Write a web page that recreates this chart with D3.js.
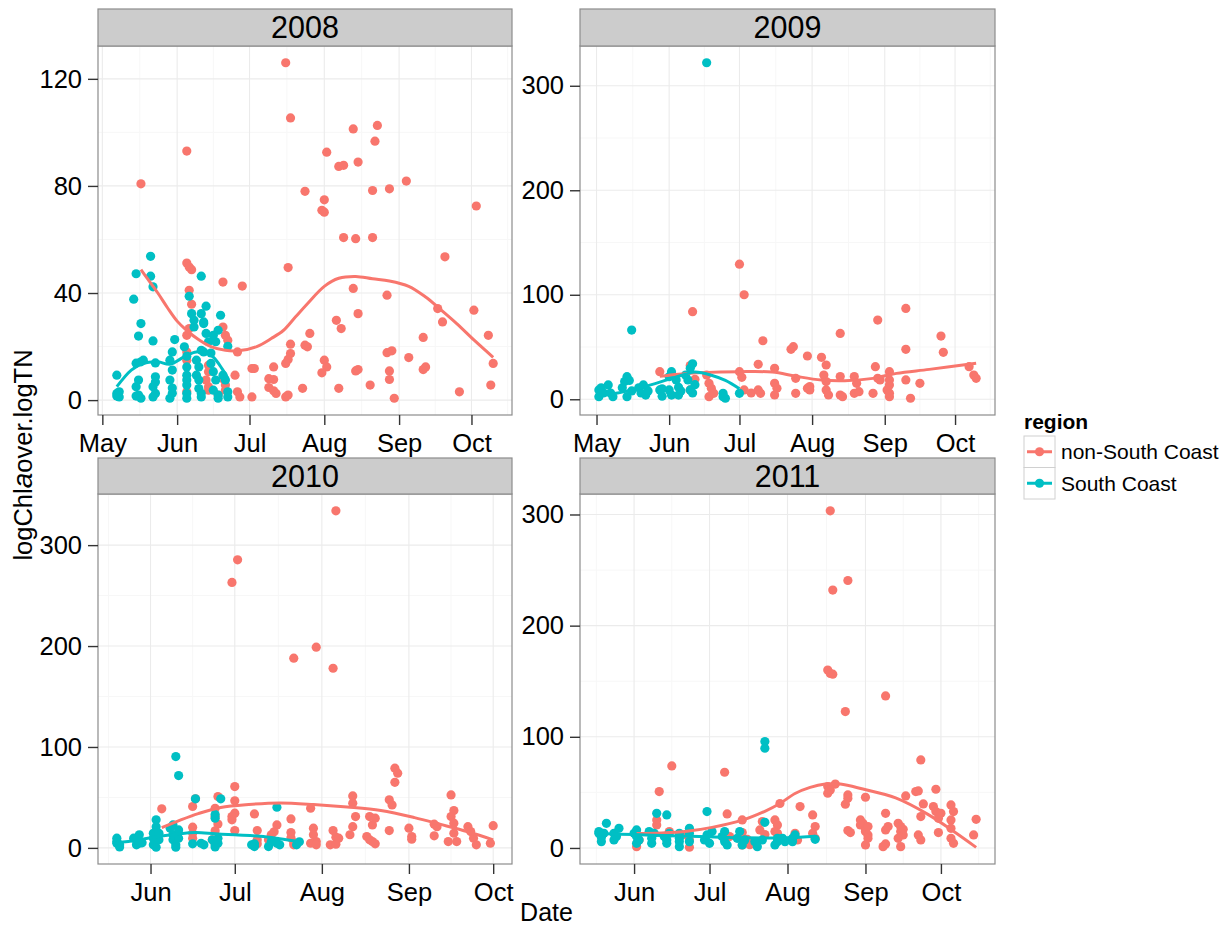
<!DOCTYPE html>
<html><head><meta charset="utf-8">
<script src="https://cdn.jsdelivr.net/npm/d3@7"></script>
<style>
body{margin:0;background:#fff;}
text{font-family:"Liberation Sans",Arial,Helvetica,sans-serif;}
</style>
</head><body>
<svg id="chart" width="1231" height="929"></svg>
<script>
// ---------------- DATA ----------------
const years = [2008, 2009, 2010, 2011];
const regions = ["non-South Coast", "South Coast"];
const yTicks2008 = [0, 40, 80, 120];
const yTicksOther = [0, 100, 200, 300];

// 2008
const nsc2008Dates = ["05-17","06-05","06-05","06-06","06-07","06-06","06-07","06-06","06-05","06-05","06-05","06-05","06-14","06-14","06-13","06-14","06-14","06-20","06-20","06-21","06-22","06-20","06-21","06-18","06-21","06-28","06-26","06-25","06-26","06-27","07-02","07-03","07-02","07-11","07-09","07-11","07-09","07-11","07-12","07-16","07-18","07-17","07-18","07-18","07-17","07-16","07-16","07-17","07-23","07-24","07-26","07-25","07-24","08-02","08-01","07-31","08-01","08-01","08-02","07-31","08-06","08-08","08-07","08-07","08-09","08-09","08-13","08-15","08-14","08-13","08-15","08-14","08-15","08-20","08-21","08-21","08-22","08-23","08-27","08-28","08-27","08-29","08-28","08-28","08-30","09-04","09-05","09-11","09-11","09-12","09-17","09-19","09-20","09-26","10-02","10-03","10-08","10-09","10-10"];
const nsc2008Values = [80.8,93,51.2,49.7,48.7,41,35.8,26.7,24.2,18,14.9,3.1,13,10.6,7.5,5,3.7,44.1,27.3,24.2,22.4,8,5.6,1.9,3.7,42.6,18,9.3,3.1,1.2,11.8,11.8,1.2,12.4,8,7.7,4.7,3.5,2.5,126,105.4,49.5,20.9,17.4,15.2,13.7,1.2,1.9,4.4,78,24.9,19.9,20.5,92.6,74.8,70.9,70.2,14.9,12.4,10.2,29.8,26.7,4.4,87.3,87.7,60.7,101.3,88.9,60.3,41.7,32.3,10.9,11.4,5.6,78.3,60.7,96.7,102.6,39.2,78.9,17.7,18.4,10.9,7.7,0.7,81.8,15.9,23.4,11.4,12.4,34.2,29.2,53.5,3.1,33.6,72.5,24.2,5.6,13.7];
const sc2008Dates = ["05-07","05-07","05-08","05-08","05-07","05-14","05-15","05-17","05-16","05-15","05-17","05-16","05-15","05-15","05-16","05-17","05-18","05-21","05-21","05-22","05-22","05-23","05-23","05-23","05-22","05-23","05-22","05-31","05-30","05-29","05-30","05-29","05-30","05-30","05-29","06-04","06-05","06-05","06-05","06-05","06-05","06-05","06-05","06-06","06-07","06-08","06-08","06-11","06-11","06-13","06-12","06-12","06-13","06-14","06-11","06-12","06-15","06-09","06-10","06-09","06-10","06-10","06-11","06-11","06-19","06-18","06-16","06-17","06-22","06-15","06-16","06-17","06-16","06-18","06-18","06-20","06-21","06-22","06-22"];
const sc2008Values = [9.3,2.5,1.2,3.1,1.5,37.7,47.2,28.6,23.9,13.8,14.3,7.5,5,1.5,1.9,0.7,14.9,53.7,46.3,42.3,22.1,13.9,8.7,6.8,5,2.5,1.2,22.6,18,14.9,11.2,7.5,4.5,2.6,0.7,19.9,16.4,12.4,9.3,7.5,5.6,2.5,0.7,38.8,32.3,27.3,29.8,46.3,32.3,35.1,28.6,29.2,24.9,21.8,18.6,18,17.6,14.9,12.4,9.3,7.5,4.3,2.5,1.2,31.7,26.1,24.2,21.8,20.1,13.7,10.6,7.5,3.7,1.9,0.7,9.3,7.5,1.2,3.1];
const nscFit2008Dates = ["05-17","05-20","05-24","05-28","06-01","06-05","06-10","06-15","06-21","06-27","07-04","07-10","07-15","07-20","07-25","08-01","08-07","08-14","08-21","08-28","09-05","09-12","09-18","09-25","10-02","10-10"];
const nscFit2008Values = [48.7,45,40,34.5,29.5,26,22.5,20,18.6,18.5,20,23,26,31,36,42.5,45.5,46.2,45.3,44.5,42.5,38.5,34,28.5,22.5,16];
const scFit2008Dates = ["05-07","05-13","05-18","05-24","05-29","06-04","06-09","06-15","06-20","06-22"];
const scFit2008Values = [5,11.2,13.7,14.3,13.4,16.2,18,16.8,11.2,8.2];

// 2009
const nsc2009Dates = ["05-28","06-10","06-11","06-10","06-12","06-17","06-18","06-19","06-18","06-20","07-01","07-03","07-01","07-02","07-03","07-06","07-09","07-10","07-11","07-09","07-16","07-16","07-17","07-16","07-23","07-24","07-25","07-25","07-30","07-30","07-31","07-31","08-05","08-07","08-06","08-07","08-07","08-08","08-13","08-13","08-13","08-14","08-19","08-20","08-19","08-21","08-27","08-28","08-29","08-29","08-30","09-02","09-03","09-03","09-03","09-03","09-03","09-10","09-10","09-10","09-12","09-16","09-25","09-26","10-07","10-09","10-10"];
const nsc2009Values = [26.4,32.2,83.8,8.9,19.1,23.2,15.3,10.5,2.5,5.7,129.3,100,26.4,21,8.9,6,8.9,5.7,56,33.4,29.6,15.3,10.5,4.1,47.8,50.3,20,5.7,41.4,10.5,12.1,8.9,40.1,32.8,23.2,16.9,8.9,4.1,63,21.7,4.1,2.5,21.7,15.3,5.7,7.3,5.7,31.2,75.8,20,18.5,8.9,2.5,5.7,26.4,18.5,13.7,86.9,47.8,18.5,1,15.3,60.5,44.9,31.2,23.2,20];
const sc2009Dates = ["05-02","05-02","05-03","05-04","05-06","05-07","05-08","05-12","05-13","05-14","05-14","05-15","05-16","05-16","05-19","05-20","05-21","05-22","05-23","05-28","05-29","05-29","06-01","06-02","06-01","06-02","06-04","06-05","06-05","06-06","06-08","06-09","06-10","06-10","06-11","06-11","06-12","06-17","06-24","06-25","06-24","07-01"];
const sc2009Values = [8.9,2.5,11,6,13.7,6,2.5,11,16.9,21.6,2.5,18,8,66.2,11,6,13.7,4,8,8.9,3,10,21.6,26.4,8.9,4,18.5,11.5,4,8,23.2,18.5,29.6,8.9,6,34,14,322,5.7,1,2.5,5.7];
const nscFit2009Dates = ["05-28","06-05","06-15","07-01","07-15","07-25","08-05","08-15","08-27","09-06","09-20","10-10"];
const nscFit2009Values = [22,24,25.5,26.4,26,22,18.4,17.8,20,24.8,28.6,34.5];
const scFit2009Dates = ["05-02","05-10","05-18","05-26","06-02","06-08","06-12","06-19","06-25","07-01"];
const scFit2009Values = [4,6,10,15,20,24,26,23,18,10];

// 2010
const nsc2010Dates = ["06-05","06-16","06-17","06-16","06-16","06-16","06-25","06-24","06-24","06-25","06-24","06-23","06-24","06-30","07-02","07-01","07-01","07-01","06-30","06-30","07-01","07-08","07-09","07-09","07-09","07-16","07-15","07-14","07-13","07-21","07-22","07-21","07-22","07-21","07-22","07-28","07-30","07-29","07-29","07-30","07-28","07-30","08-05","08-06","08-05","08-06","08-04","08-06","08-07","08-12","08-12","08-13","08-12","08-11","08-18","08-19","08-20","08-17","08-18","08-19","08-20","08-25","08-26","08-25","08-27","08-28","08-27","09-01","09-02","09-02","09-10","09-11","09-10","09-16","09-17","09-16","09-17","09-15","09-17","09-18","09-22","09-23","09-24","09-25","09-30","10-01"];
const nsc2010Values = [38.7,41,48.6,20.5,14.5,9.6,50.9,39.3,31,23.6,17,8,4.6,263,285.4,60.8,46.6,34.4,31,27.8,17.2,33.7,17.2,8,4,22.8,16,12.9,8,28.7,188,10,5.3,15.2,3,39.3,198.9,19.5,13,6.3,4.6,3,178,334,17.2,10.6,3,3.6,9.6,51.5,44.3,31,21,13,31,22.8,29.4,11.2,8,6.3,4,47.6,42.6,17.2,79,74,65,19.5,11.2,8.6,23.5,21,12,52.5,37,31,24.5,6.3,14.5,6.3,21,16.2,9.6,3,4.6,22];
const sc2010Dates = ["05-20","05-20","05-21","05-20","05-21","05-26","05-27","05-28","05-28","05-27","05-29","06-02","06-03","06-03","06-02","06-02","06-03","06-04","06-04","06-08","06-09","06-09","06-10","06-10","06-11","06-11","06-09","06-10","06-11","06-16","06-17","06-19","06-20","06-24","06-24","06-24","06-25","06-23","06-25","06-24","06-26","07-07","07-08","07-08","07-13","07-14","07-16","07-16","07-17","07-23","07-24"];
const sc2010Values = [6.3,4.6,1,9.6,3,9.6,3,4.6,13,8,5,9.6,21,27.8,14.5,3,0.7,8,14.5,19.5,8,13,3,0.7,17.8,9.6,22.8,90.5,71.7,4,48.6,4.6,3,29.4,33,3,4.6,8,9.6,1,48.6,3,4,1.3,1.3,6.3,4.6,40.3,3,3,6];
const nscFit2010Dates = ["06-05","06-12","06-18","06-26","07-06","07-17","07-29","08-10","08-22","09-03","09-12","09-22","10-01"];
const nscFit2010Values = [20,28,34,40,43,44.5,43,40.5,37,30,23.5,16,8];
const scFit2010Dates = ["05-20","05-27","06-03","06-10","06-17","06-24","07-01","07-10","07-17","07-24"];
const scFit2010Values = [5,7.5,11,13.5,15.2,14,12.9,11.5,9,6];

// 2011
const nsc2011Dates = ["06-02","06-03","06-10","06-10","06-11","06-15","06-16","06-22","06-23","06-23","07-07","07-08","07-09","07-14","07-14","07-14","07-15","07-16","07-17","07-21","07-22","07-23","07-27","07-28","07-27","07-28","07-29","08-04","08-05","08-06","08-11","08-12","08-11","08-12","08-17","08-20","08-17","08-18","08-17","08-18","08-19","08-18","08-19","08-24","08-25","08-25","08-25","08-24","08-25","08-26","08-30","08-31","08-30","09-01","09-01","09-01","09-02","09-01","09-02","09-02","09-08","09-09","09-09","09-09","09-10","09-09","09-14","09-15","09-16","09-14","09-16","09-15","09-15","09-17","09-21","09-22","09-23","09-24","09-23","09-22","09-23","09-29","09-28","09-29","09-30","09-30","10-01","10-05","10-06","10-05","10-05","10-05","10-06","10-14","10-15"];
const nsc2011Values = [1.2,7.2,25.2,20.7,50.7,14.7,73.8,11.7,0.7,7.2,68.1,30.6,10.2,25.2,13.8,2.7,5.7,7.8,3,16.2,23.7,12,25.2,20.7,14.7,13.2,40,13.2,7.2,37.2,29.7,19.2,13.2,8.7,55.2,57.5,49.2,52.2,160,157,156.3,303.3,232,122.7,240.6,47.7,44.7,39.3,15.6,13.8,25.2,22.2,20.7,45.6,16.2,14.7,11.7,2.7,19.2,8.7,1.2,3.6,31.2,16.2,19.2,136.8,22.2,14.7,11.7,8.7,16.8,1.2,19.2,46.8,50.7,51.3,79.2,39.6,28.2,11.7,7.2,52.8,37.2,32.7,26.7,13.8,31.2,38.7,32.7,25.2,17.7,8.7,4.2,11.7,25.8];
const sc2011Dates = ["05-18","05-18","05-19","05-19","05-20","05-21","05-24","05-24","05-25","05-26","06-01","06-02","06-02","06-02","06-03","06-07","06-08","06-09","06-08","06-10","06-14","06-13","06-14","06-14","06-15","06-19","06-19","06-19","06-19","06-23","06-23","06-23","06-29","06-30","06-30","07-01","07-02","07-06","07-07","07-07","07-08","07-12","07-13","07-14","07-15","07-19","07-20","07-22","07-23","07-23","07-23","07-27","07-28","07-28","07-30","07-31","08-03","08-03","08-04","08-12"];
const sc2011Values = [13.2,14.7,5.7,9.7,13.2,22.2,13.2,7.2,10.2,17.7,13.2,16.2,10.2,4.2,7.2,14.7,8.7,13.2,4.2,31.2,29.7,10.2,4.2,7.2,13.2,13.2,8.7,5.7,1.2,17.7,13.2,5.7,7.2,11.7,32.7,4.2,14.7,10.2,5.7,14.7,2.7,8.7,14.7,2.7,7.2,5.7,1.2,7.2,23.1,95.7,89.7,2.7,8.7,5.7,8.7,5.7,8.7,5.7,11.7,7.8];
const nscFit2011Dates = ["06-02","06-12","06-22","07-02","07-14","07-23","07-29","08-04","08-10","08-16","08-22","08-31","09-13","09-26","10-06","10-15"];
const nscFit2011Values = [13,13.5,15,18.5,25,33,40,49,54.5,57.5,57.5,53,45,30,15,0.5];
const scFit2011Dates = ["05-18","06-01","06-15","07-01","07-15","08-01","08-12"];
const scFit2011Values = [13,12,11,10,9.2,9.2,10.5];

// ---------------- LAYOUT / STYLE ----------------
const RED = "#F8766D", CYAN = "#00BFC4";
const cols = [[98, 512], [580, 995]];
const rows = [[9, 46, 415], [458, 494, 864]]; // stripTop, panelTop, panelBottom
const tickFont = 25.5, stripFont = 30.5;

const panels = [
  {year: years[0], col: 0, row: 0, yTicks: yTicks2008,
   nsc: [nsc2008Dates, nsc2008Values], sc: [sc2008Dates, sc2008Values],
   nscFit: [nscFit2008Dates, nscFit2008Values], scFit: [scFit2008Dates, scFit2008Values]},
  {year: years[1], col: 1, row: 0, yTicks: yTicksOther,
   nsc: [nsc2009Dates, nsc2009Values], sc: [sc2009Dates, sc2009Values],
   nscFit: [nscFit2009Dates, nscFit2009Values], scFit: [scFit2009Dates, scFit2009Values]},
  {year: years[2], col: 0, row: 1, yTicks: yTicksOther,
   nsc: [nsc2010Dates, nsc2010Values], sc: [sc2010Dates, sc2010Values],
   nscFit: [nscFit2010Dates, nscFit2010Values], scFit: [scFit2010Dates, scFit2010Values]},
  {year: years[3], col: 1, row: 1, yTicks: yTicksOther,
   nsc: [nsc2011Dates, nsc2011Values], sc: [sc2011Dates, sc2011Values],
   nscFit: [nscFit2011Dates, nscFit2011Values], scFit: [scFit2011Dates, scFit2011Values]}
];

const svg = d3.select("#chart");
svg.append("rect").attr("width", 1231).attr("height", 929).attr("fill", "#fff");

function minorOf(majors, lo, hi) {
  const out = [];
  if (majors.length < 2) return out;
  const vals = majors.map(Number);
  const step0 = vals[1] - vals[0];
  const cand = [vals[0] - step0 / 2];
  for (let i = 0; i < vals.length - 1; i++) cand.push((vals[i] + vals[i + 1]) / 2);
  const stepN = vals[vals.length - 1] - vals[vals.length - 2];
  cand.push(vals[vals.length - 1] + stepN / 2);
  cand.forEach(v => { if (v > lo && v < hi) out.push(v); });
  return out;
}

panels.forEach(p => {
  const [px0, px1] = cols[p.col];
  const [sTop, py0, py1] = rows[p.row];
  const parse = s => new Date(p.year, +s.slice(0, 2) - 1, +s.slice(3, 5));
  const toPts = ([ds, vs]) => ds.map((d, i) => ({date: parse(d), value: vs[i]}));
  const nsc = toPts(p.nsc), sc = toPts(p.sc);
  const nscFit = toPts(p.nscFit), scFit = toPts(p.scFit);
  const all = nsc.concat(sc);

  const [dMin, dMax] = d3.extent(all, d => +d.date);
  const dSpan = dMax - dMin;
  const x = d3.scaleTime()
    .domain([new Date(dMin - dSpan * 0.05), new Date(dMax + dSpan * 0.05)])
    .range([px0, px1]);
  const [vMin, vMax] = d3.extent(all, d => d.value);
  const vSpan = vMax - vMin;
  const y = d3.scaleLinear()
    .domain([vMin - vSpan * 0.05, vMax + vSpan * 0.05])
    .range([py1, py0]);

  const g = svg.append("g");
  g.append("rect").attr("x", px0).attr("y", py0).attr("width", px1 - px0).attr("height", py1 - py0).attr("fill", "#fff");

  const xd = x.domain();
  const months = d3.timeMonth.range(xd[0], xd[1]);
  const xMinor = minorOf(months, +xd[0], +xd[1]);
  const yd = y.domain();
  const yMinor = minorOf(p.yTicks, yd[0], yd[1]);

  // minor grid
  g.selectAll(".xminor").data(xMinor).enter().append("line")
    .attr("x1", d => x(new Date(d))).attr("x2", d => x(new Date(d)))
    .attr("y1", py0).attr("y2", py1).attr("stroke", "#f7f7f7").attr("stroke-width", 1);
  g.selectAll(".yminor").data(yMinor).enter().append("line")
    .attr("x1", px0).attr("x2", px1).attr("y1", d => y(d)).attr("y2", d => y(d))
    .attr("stroke", "#f7f7f7").attr("stroke-width", 1);
  // major grid
  g.selectAll(".xmajor").data(months).enter().append("line")
    .attr("x1", d => x(d)).attr("x2", d => x(d)).attr("y1", py0).attr("y2", py1)
    .attr("stroke", "#ebebeb").attr("stroke-width", 1.1);
  g.selectAll(".ymajor").data(p.yTicks).enter().append("line")
    .attr("x1", px0).attr("x2", px1).attr("y1", d => y(d)).attr("y2", d => y(d))
    .attr("stroke", "#ebebeb").attr("stroke-width", 1.1);

  // points
  g.selectAll(".pn").data(nsc).enter().append("circle")
    .attr("cx", d => x(d.date)).attr("cy", d => y(d.value)).attr("r", 4.6).attr("fill", RED);
  g.selectAll(".ps").data(sc).enter().append("circle")
    .attr("cx", d => x(d.date)).attr("cy", d => y(d.value)).attr("r", 4.6).attr("fill", CYAN);

  // smooth lines
  const line = d3.line().x(d => x(d.date)).y(d => y(d.value)).curve(d3.curveCatmullRom.alpha(0.5));
  g.append("path").datum(nscFit).attr("d", line).attr("fill", "none").attr("stroke", RED).attr("stroke-width", 3);
  g.append("path").datum(scFit).attr("d", line).attr("fill", "none").attr("stroke", CYAN).attr("stroke-width", 3);

  // border
  g.append("rect").attr("x", px0).attr("y", py0).attr("width", px1 - px0).attr("height", py1 - py0)
    .attr("fill", "none").attr("stroke", "#8c8c8c").attr("stroke-width", 1.2);
  // strip
  g.append("rect").attr("x", px0).attr("y", sTop).attr("width", px1 - px0).attr("height", py0 - sTop)
    .attr("fill", "#cccccc").attr("stroke", "#8c8c8c").attr("stroke-width", 1.2);
  g.append("text").attr("x", (px0 + px1) / 2).attr("y", (sTop + py0) / 2 + stripFont * 0.358)
    .attr("text-anchor", "middle").style("font-size", stripFont + "px").attr("fill", "#000").text(p.year);

  // axes
  const xAxis = d3.axisBottom(x).tickValues(months).tickFormat(d3.timeFormat("%b"))
    .tickSize(10).tickPadding(9);
  const gx = g.append("g").attr("transform", `translate(0,${py1})`).call(xAxis);
  gx.select(".domain").remove();
  gx.selectAll("line").attr("stroke", "#333").attr("stroke-width", 1.4);
  gx.selectAll("text").style("font-size", tickFont + "px").attr("fill", "#000")
    .style("font-family", '"Liberation Sans", Arial, sans-serif');

  const yAxis = d3.axisLeft(y).tickValues(p.yTicks).tickSize(10).tickPadding(6);
  const gy = g.append("g").attr("transform", `translate(${px0},0)`).call(yAxis);
  gy.select(".domain").remove();
  gy.selectAll("line").attr("stroke", "#333").attr("stroke-width", 1.4);
  gy.selectAll("text").style("font-size", tickFont + "px").attr("fill", "#000")
    .style("font-family", '"Liberation Sans", Arial, sans-serif');
});

// axis titles
svg.append("text").attr("x", (cols[0][0] + cols[1][1]) / 2).attr("y", 921)
  .attr("text-anchor", "middle").style("font-size", "25px").attr("fill", "#000").text("Date");

const yt = svg.append("text").attr("transform", "translate(32,455) rotate(-90)")
  .attr("text-anchor", "middle").style("font-size", "25.5px").attr("fill", "#000");
yt.append("tspan").text("logChl");
yt.append("tspan").style("font-style", "italic").style("font-size", "28px").text("a");
yt.append("tspan").text("over.logTN");

// legend
const lg = svg.append("g");
lg.append("text").attr("x", 1024).attr("y", 429).style("font-size", "21px").style("font-weight", "bold")
  .attr("fill", "#000").text("region");
const keyColors = [RED, CYAN];
regions.forEach((r, i) => {
  const ky = 436 + i * 31.5;
  lg.append("rect").attr("x", 1024).attr("y", ky).attr("width", 31).attr("height", 31.5)
    .attr("fill", "#fff").attr("stroke", "#d0d0d0").attr("stroke-width", 1);
  lg.append("line").attr("x1", 1027).attr("x2", 1052).attr("y1", ky + 15.75).attr("y2", ky + 15.75)
    .attr("stroke", keyColors[i]).attr("stroke-width", 3);
  lg.append("circle").attr("cx", 1039.5).attr("cy", ky + 15.75).attr("r", 4.6).attr("fill", keyColors[i]);
  lg.append("text").attr("x", 1061).attr("y", ky + 15.75 + 21 * 0.358).style("font-size", "21px")
    .attr("fill", "#000").text(r);
});
</script>
</body></html>
